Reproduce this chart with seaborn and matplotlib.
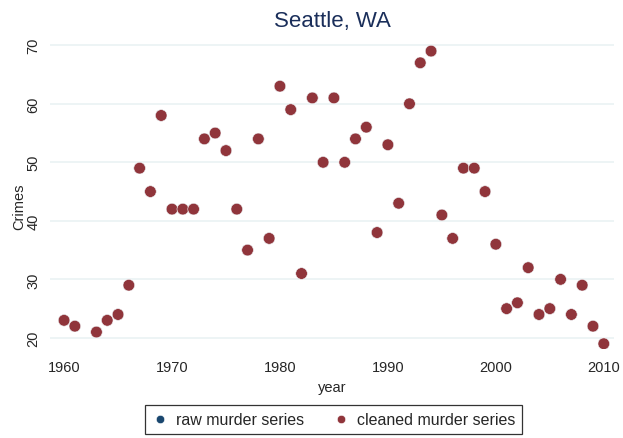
import pandas as pd
import matplotlib.pyplot as plt
import seaborn as sns

# Seattle, WA murder counts by year (1962 missing)
years = [1960, 1961, 1963, 1964, 1965, 1966, 1967, 1968, 1969, 1970,
         1971, 1972, 1973, 1974, 1975, 1976, 1977, 1978, 1979, 1980,
         1981, 1982, 1983, 1984, 1985, 1986, 1987, 1988, 1989, 1990,
         1991, 1992, 1993, 1994, 1995, 1996, 1997, 1998, 1999, 2000,
         2001, 2002, 2003, 2004, 2005, 2006, 2007, 2008, 2009, 2010]
cleaned_murders = [23, 22, 21, 23, 24, 29, 49, 45, 58, 42,
                   42, 42, 54, 55, 52, 42, 35, 54, 37, 63,
                   59, 31, 61, 50, 61, 50, 54, 56, 38, 53,
                   43, 60, 67, 69, 41, 37, 49, 49, 45, 36,
                   25, 26, 32, 24, 25, 30, 24, 29, 22, 19]
# raw series sits underneath the cleaned one
raw_murders = list(cleaned_murders)

x_ticks = [1960, 1970, 1980, 1990, 2000, 2010]
y_ticks = [20, 30, 40, 50, 60, 70]

df = pd.DataFrame({
    'year': years * 2,
    'Crimes': raw_murders + cleaned_murders,
    'series': ['raw murder series'] * len(years) + ['cleaned murder series'] * len(years),
})

sns.set_style('white')
plt.rcParams['font.family'] = ['Liberation Sans', 'DejaVu Sans']

fig = plt.figure(figsize=(6.23, 4.39), dpi=100)
ax = fig.add_axes([0.0803, 0.2027, 0.9053, 0.7333])

palette = {'raw murder series': '#1a476f', 'cleaned murder series': '#90353b'}
sns.scatterplot(data=df, x='year', y='Crimes', hue='series', palette=palette,
                s=70, edgecolor='white', linewidth=0.4, ax=ax, legend=False)

ax.set_xlim(1958.7, 2010.95)
ax.set_ylim(18.1, 73.1)
ax.set_xticks(x_ticks)
ax.set_yticks(y_ticks)
ax.set_yticklabels([str(v) for v in y_ticks], rotation=90, va='center')
ax.grid(axis='y', color='#eaf2f3', linewidth=1.2)
ax.set_axisbelow(True)
for sp in ax.spines.values():
    sp.set_visible(False)
ax.tick_params(axis='both', direction='out', length=5, width=1, color='#666666',
               labelsize=10.5, pad=3)
ax.tick_params(axis='y', pad=2)

ax.set_xlabel('year', fontsize=10.5, labelpad=4)
ax.set_ylabel('Crimes', fontsize=10.5)
ax.yaxis.set_label_coords(-0.043, 0.444)
ax.set_title('Seattle, WA', fontsize=16, color='#1a2e5a', pad=1)

handles = [plt.Line2D([], [], marker='o', linestyle='', markersize=6,
                      markerfacecolor=palette[k], markeredgecolor='white', markeredgewidth=0.4)
           for k in ['raw murder series', 'cleaned murder series']]
leg = fig.legend(handles, ['raw murder series', 'cleaned murder series'],
                 loc='lower center', bbox_to_anchor=(0.535, -0.01), ncol=2,
                 frameon=True, fancybox=False, fontsize=11.5, handletextpad=0.5,
                 columnspacing=1.8, borderpad=0.45, handlelength=1.0)
leg.get_frame().set_edgecolor('black')
leg.get_frame().set_linewidth(0.9)

plt.savefig('out.png', dpi=100)
